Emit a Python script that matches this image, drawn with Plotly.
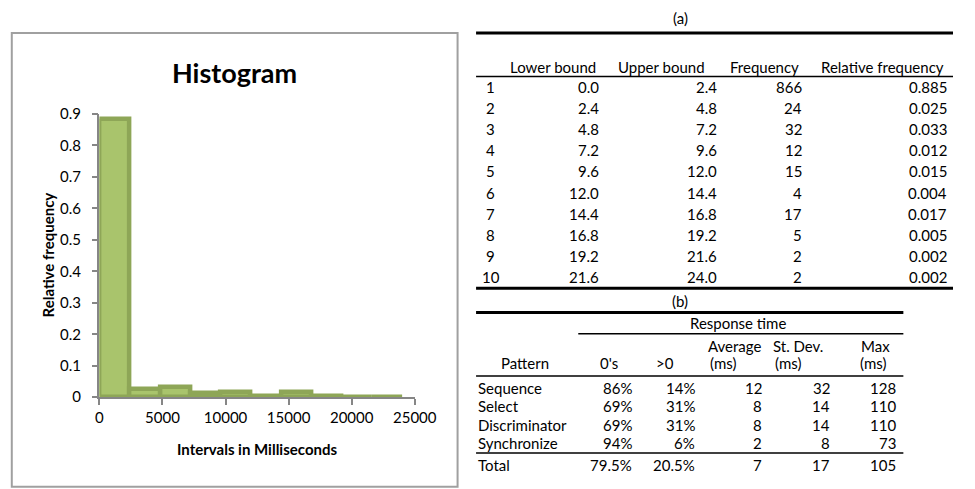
import plotly.graph_objects as go

W, H = 975, 489

# table (a) / histogram data
bin_no = [1, 2, 3, 4, 5, 6, 7, 8, 9, 10]
lower_bound = [0.0, 2.4, 4.8, 7.2, 9.6, 12.0, 14.4, 16.8, 19.2, 21.6]
upper_bound = [2.4, 4.8, 7.2, 9.6, 12.0, 14.4, 16.8, 19.2, 21.6, 24.0]
frequency = [866, 24, 32, 12, 15, 4, 17, 5, 2, 2]
rel_frequency = [0.885, 0.025, 0.033, 0.012, 0.015, 0.004, 0.017, 0.005, 0.002, 0.002]

# table (b) data
patterns = ["Sequence", "Select", "Discriminator", "Synchronize", "Total"]
zeros_pct = ["86%", "69%", "69%", "94%", "79.5%"]
pos_pct = ["14%", "31%", "31%", "6%", "20.5%"]
avg_ms = [12, 8, 8, 2, 7]
sd_ms = [32, 14, 14, 8, 17]
max_ms = [128, 110, 110, 73, 105]

FONT = "Lato"


def px(x):
    return x / W


def py(y):
    return 1 - y / H


def txt(x, y, s, anchor="left", size=15, bold=False, angle=0):
    return dict(
        x=px(x), y=py(y), xref="paper", yref="paper", text=f"<b>{s}</b>" if bold else s,
        showarrow=False, xanchor=anchor, yanchor="middle", textangle=angle,
        font=dict(family=FONT, size=size, color="#000000"),
    )


def hline(x0, x1, y, w):
    return dict(type="line", xref="paper", yref="paper", x0=px(x0), x1=px(x1),
                y0=py(y), y1=py(y), line=dict(color="#000000", width=w))


# histogram bars (bin edges in ms)
centers = [(lo + hi) / 2 * 1000 for lo, hi in zip(lower_bound, upper_bound)]
widths = [(hi - lo) * 1000 for lo, hi in zip(lower_bound, upper_bound)]

fig = go.Figure()
fig.add_trace(go.Bar(
    x=centers, y=rel_frequency, width=widths,
    marker=dict(color="#A9C46C", line=dict(color="#8EA657", width=4.5)),
    showlegend=False,
))

ann = []
shapes = []

# chart frame
shapes.append(dict(type="rect", xref="paper", yref="paper", x0=px(8), x1=px(466),
                   y0=py(495), y1=py(24), line=dict(color="#A0A0A0", width=2)))

ann.append(txt(237, 65, "Histogram", "center", 27, True))
ann.append(txt(260, 456, "Intervals in Milliseconds", "center", 15, True))
ann.append(txt(45, 254, "Relative frequency", "center", 15, True, -90))

# ---- table (a)
ann.append(txt(695, 8, "(a)", "center"))
shapes.append(hline(485, 975, 24, 3))
heads_a = [("Lower bound", 610), ("Upper bound", 722), ("Frequency", 819), ("Relative frequency", 968)]
for h, x in heads_a:
    ann.append(txt(x, 59, h, "right"))
shapes.append(hline(485, 975, 69, 1.5))
for i in range(len(bin_no)):
    y = 80 + i * 21.9
    ann.append(txt(500, y, str(bin_no[i]), "center"))
    ann.append(txt(613, y, f"{lower_bound[i]:.1f}", "right"))
    ann.append(txt(735, y, f"{upper_bound[i]:.1f}", "right"))
    ann.append(txt(822, y, str(frequency[i]), "right"))
    ann.append(txt(971, y, f"{rel_frequency[i]:.3f}", "right"))
shapes.append(hline(485, 975, 289, 3))

# ---- table (b)
ann.append(txt(695, 302, "(b)", "center"))
shapes.append(hline(485, 924, 314, 3))
ann.append(txt(754, 325, "Response time", "center"))
shapes.append(hline(590, 924, 336, 1.5))
ann.append(txt(721, 349, "Average"))
ann.append(txt(788, 349, "St. Dev."))
ann.append(txt(878, 349, "Max"))
ann.append(txt(535, 366, "Pattern", "center"))
ann.append(txt(610, 366, "0's"))
ann.append(txt(668, 366, "&gt;0"))
ann.append(txt(723, 366, "(ms)"))
ann.append(txt(790, 366, "(ms)"))
ann.append(txt(877, 366, "(ms)"))
shapes.append(hline(485, 924, 380, 1.5))
rows_y = [392, 411, 431, 450, 472]
for i, p in enumerate(patterns):
    y = rows_y[i]
    ann.append(txt(485, y, p))
    ann.append(txt(647, y, zeros_pct[i], "right"))
    ann.append(txt(712, y, pos_pct[i], "right"))
    ann.append(txt(781, y, str(avg_ms[i]), "right"))
    ann.append(txt(851, y, str(sd_ms[i]), "right"))
    ann.append(txt(918, y, str(max_ms[i]), "right"))
shapes.append(hline(485, 924, 460, 1.5))

axis_common = dict(showline=True, linecolor="#868686", linewidth=1.5, ticks="outside",
                   ticklen=6, tickwidth=1.5, tickcolor="#868686", showgrid=False, zeroline=False,
                   tickfont=dict(family=FONT, size=15, color="#000000"))

fig.update_layout(
    width=W, height=H,
    margin=dict(l=0, r=0, t=0, b=0),
    paper_bgcolor="white", plot_bgcolor="white",
    bargap=0,
    xaxis=dict(domain=[px(98), px(422)], range=[0, 25000], tickvals=[0, 5000, 10000, 15000, 20000, 25000],
               tickformat="d", **axis_common),
    yaxis=dict(domain=[py(402), py(108)], range=[0, 0.9], dtick=0.1, ticksuffix="  ", **axis_common),
    annotations=ann,
    shapes=shapes,
)

fig.write_html("out.html", config={"displayModeBar": False},
               post_script="document.body.style.margin='0';")
